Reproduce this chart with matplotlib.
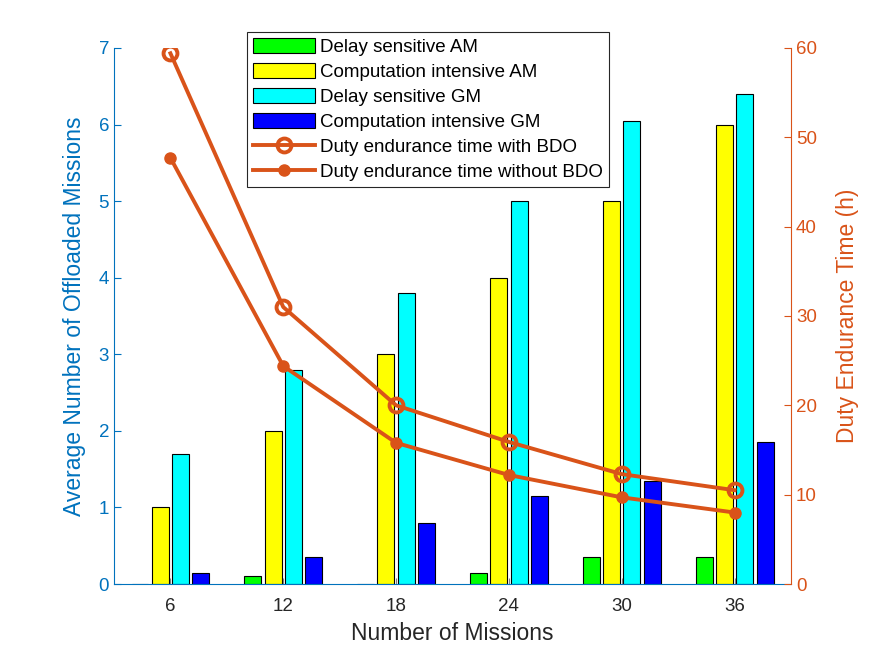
import matplotlib
matplotlib.use("Agg")
import matplotlib.pyplot as plt
import numpy as np

plt.rcParams['font.family'] = ['Liberation Sans', 'DejaVu Sans']

missions = [6, 12, 18, 24, 30, 36]

# bar heights (left axis)
delay_am = [0, 0.1, 0, 0.15, 0.35, 0.35]
comp_am = [1, 2, 3, 4, 5, 6]
delay_gm = [1.7, 2.8, 3.8, 5.0, 6.05, 6.4]
comp_gm = [0.15, 0.35, 0.8, 1.15, 1.35, 1.85]

# endurance time in hours (right axis)
with_bdo = [59.4, 31.0, 20.0, 15.9, 12.3, 10.5]
without_bdo = [47.7, 24.4, 15.8, 12.2, 9.7, 8.0]

labels = ["Delay sensitive AM", "Computation intensive AM",
          "Delay sensitive GM", "Computation intensive GM",
          "Duty endurance time with BDO", "Duty endurance time without BDO"]

blue = "#0072BD"
orange = "#D95319"
grey = "#262626"

fig = plt.figure(figsize=(8.75, 6.57), dpi=100)
ax = fig.add_axes([0.1303, 0.1111, 0.7737, 0.8159])
ax2 = ax.twinx()

x = np.arange(1, len(missions) + 1)
pitch = 0.18
width = 0.15
series = [delay_am, comp_am, delay_gm, comp_gm]
colors = ["#00FF00", "#FFFF00", "#00FFFF", "#0000FF"]
handles = []
for i, (vals, c) in enumerate(zip(series, colors)):
    h = ax.bar(x + (i - 1.5) * pitch, vals, width, color=c,
               edgecolor="black", linewidth=0.8, label=labels[i])
    handles.append(h)

l1, = ax2.plot(x, with_bdo, color=orange, lw=2.8, marker="o", ms=10,
               mfc="none", mew=2.8, label=labels[4])
l2, = ax2.plot(x, without_bdo, color=orange, lw=2.8, marker="o", ms=8,
               mfc=orange, mew=1, label=labels[5])
handles += [l1, l2]

ax.set_xlim(0.5, 6.5)
ax.set_ylim(0, 7)
ax2.set_ylim(0, 60)
ax.set_xticks(x)
ax.set_xticklabels([str(m) for m in missions])
ax.set_yticks(range(0, 8))
ax2.set_yticks(range(0, 61, 10))

ax.spines["top"].set_visible(False)
ax2.spines["top"].set_visible(False)
ax2.spines["left"].set_visible(False)
ax2.spines["bottom"].set_visible(False)
ax.spines["right"].set_visible(False)
ax.spines["left"].set_color(blue)
ax.spines["bottom"].set_color(blue)
ax2.spines["right"].set_color(orange)

ax.tick_params(axis="y", direction="in", colors=blue, labelsize=13.5,
               length=5, labelcolor=blue)
ax.tick_params(axis="x", direction="in", color="0.5", labelsize=13.5,
               length=4, labelcolor=grey, pad=10)
ax2.tick_params(axis="y", direction="in", colors=orange, labelsize=13.5,
                length=5, labelcolor=orange)

ax.set_xlabel("Number of Missions", fontsize=16.5, color=grey, labelpad=5)
ax.set_ylabel("Average Number of Offloaded Missions", fontsize=16.5,
              color=blue, labelpad=9)
ax2.set_ylabel("Duty Endurance Time (h)", fontsize=16.5, color=orange,
               labelpad=14)

leg = ax2.legend(handles, labels, loc="upper left",
                 bbox_to_anchor=(247 / 875, 1 - 32 / 657),
                 bbox_transform=fig.transFigure, fontsize=13.5,
                 frameon=True, fancybox=False, framealpha=1,
                 handlelength=3.35, handleheight=0.9, labelspacing=0.36,
                 handletextpad=0.27, borderpad=0.3, borderaxespad=0)
leg.get_frame().set_edgecolor(grey)
leg.get_frame().set_linewidth(0.8)

fig.savefig("out.png", dpi=100)
